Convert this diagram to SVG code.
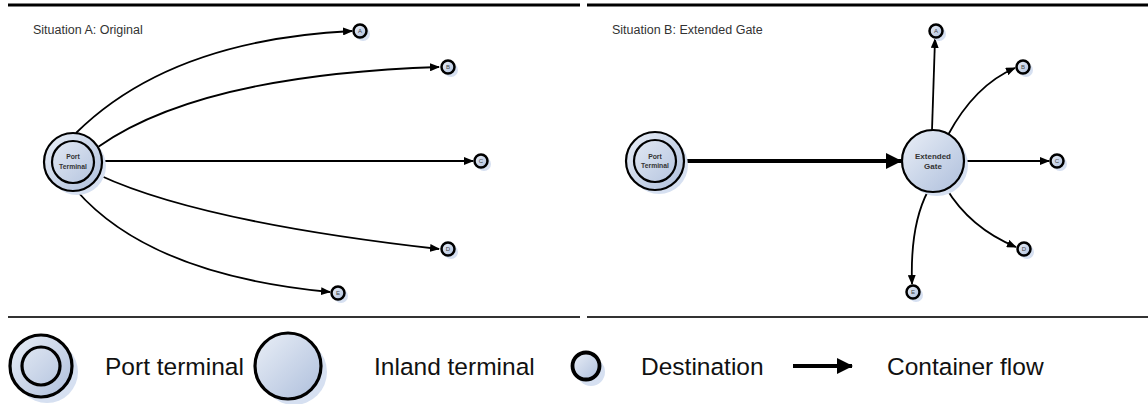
<svg xmlns="http://www.w3.org/2000/svg" width="1148" height="404" viewBox="0 0 1148 404">
<style>
.node{fill:url(#g);stroke:#000;stroke-width:2.2}
.dest{fill:url(#g);stroke:#000;stroke-width:2.5}
.shadow{fill:#d6e0f1;stroke:none}
.edge{fill:none;stroke:#000;stroke-width:1.8}
.lbl{font-family:"Liberation Sans",Arial,sans-serif;font-weight:bold;fill:#333;text-anchor:middle}
.dl{font-family:"Liberation Sans",Arial,sans-serif;font-size:6px;fill:#444;text-anchor:middle}
.title{font-family:"Liberation Sans",Arial,sans-serif;font-size:12.5px;fill:#333}
.leg{font-family:"Liberation Sans",Arial,sans-serif;font-size:24.5px;fill:#111}
</style>
<defs>
<linearGradient id="g" x1="0" y1="0" x2="1" y2="1">
<stop offset="0" stop-color="#eaeff7"/>
<stop offset="1" stop-color="#aebfdc"/>
</linearGradient>
<marker id="ah" markerUnits="userSpaceOnUse" markerWidth="10" markerHeight="8" refX="9" refY="4" orient="auto">
<path d="M0,0 L10,4 L0,8 z" fill="#000"/>
</marker>
<marker id="ahb" markerUnits="userSpaceOnUse" markerWidth="16" markerHeight="16" refX="15" refY="8" orient="auto">
<path d="M0,0 L16,8 L0,16 z" fill="#000"/>
</marker>
</defs>

<!-- frame lines -->
<g id="frame">
<line x1="8" y1="5" x2="580" y2="5" stroke="#000" stroke-width="2.8"/>
<line x1="587" y1="5" x2="1148" y2="5" stroke="#000" stroke-width="2.8"/>
<line x1="8" y1="317" x2="580" y2="317" stroke="#333" stroke-width="1.8"/>
<line x1="587" y1="317" x2="1148" y2="317" stroke="#333" stroke-width="1.8"/>
<text class="title" x="33" y="34">Situation A: Original</text>
<text class="title" x="612" y="34">Situation B: Extended Gate</text>
</g>

<!-- connectors -->
<g id="connectors">
<path class="edge" d="M76,133 Q170,40 352,31" marker-end="url(#ah)"/>
<path class="edge" d="M98,147 Q200,75 439,67" marker-end="url(#ah)"/>
<path class="edge" d="M103,161 L473,161" marker-end="url(#ah)"/>
<path class="edge" d="M99,175 Q200,222 439,249" marker-end="url(#ah)"/>
<path class="edge" d="M76,190 Q150,275 330,292" marker-end="url(#ah)"/>

<path d="M685,161 L901,161" fill="none" stroke="#000" stroke-width="4" marker-end="url(#ahb)"/>
<path class="edge" d="M932,130 L935,39" marker-end="url(#ah)"/>
<path class="edge" d="M948,135 Q975,85 1015,68" marker-end="url(#ah)"/>
<path class="edge" d="M964,161 L1049,161" marker-end="url(#ah)"/>
<path class="edge" d="M946,188 Q970,228 1016,247" marker-end="url(#ah)"/>
<path class="edge" d="M928,191 Q910,225 912,284" marker-end="url(#ah)"/>
</g>

<!-- Situation A nodes -->
<g id="portA">
<circle class="shadow" cx="77" cy="166" r="29"/>
<circle class="node" cx="73" cy="162" r="29"/>
<circle fill="none" stroke="#000" stroke-width="2.2" cx="73" cy="162" r="21"/>
<text class="lbl" font-size="6.8" x="73" y="159">Port</text>
<text class="lbl" font-size="6.8" x="73" y="168.5">Terminal</text>
</g>
<g id="A1"><circle class="shadow" cx="363" cy="34" r="7"/><circle class="dest" cx="360" cy="31" r="6.5"/><text class="dl" x="360" y="33">A</text></g>
<g id="B1"><circle class="shadow" cx="451" cy="70" r="7"/><circle class="dest" cx="448" cy="67" r="6.5"/><text class="dl" x="448" y="69">B</text></g>
<g id="C1"><circle class="shadow" cx="484" cy="164" r="7"/><circle class="dest" cx="481" cy="161" r="6.5"/><text class="dl" x="481" y="163">C</text></g>
<g id="D1"><circle class="shadow" cx="451" cy="252" r="7"/><circle class="dest" cx="448" cy="249" r="6.5"/><text class="dl" x="448" y="251">D</text></g>
<g id="E1"><circle class="shadow" cx="341" cy="296" r="7"/><circle class="dest" cx="338" cy="293" r="6.5"/><text class="dl" x="338" y="295">E</text></g>

<!-- Situation B nodes -->
<g id="portB">
<circle class="shadow" cx="659" cy="165" r="29"/>
<circle class="node" cx="655" cy="161" r="29"/>
<circle fill="none" stroke="#000" stroke-width="2.2" cx="655" cy="161" r="21"/>
<text class="lbl" font-size="6.8" x="655" y="158.5">Port</text>
<text class="lbl" font-size="6.8" x="655" y="168">Terminal</text>
</g>
<g id="gate">
<circle class="shadow" cx="937" cy="165" r="31"/>
<circle class="node" cx="933" cy="161" r="31"/>
<text class="lbl" font-size="8" x="933" y="159">Extended</text>
<text class="lbl" font-size="8" x="933" y="169">Gate</text>
</g>
<g id="A2"><circle class="shadow" cx="939" cy="34" r="7"/><circle class="dest" cx="936" cy="31" r="6.5"/><text class="dl" x="936" y="33">A</text></g>
<g id="B2"><circle class="shadow" cx="1026" cy="70" r="7"/><circle class="dest" cx="1023" cy="67" r="6.5"/><text class="dl" x="1023" y="69">B</text></g>
<g id="C2"><circle class="shadow" cx="1060" cy="164" r="7"/><circle class="dest" cx="1057" cy="161" r="6.5"/><text class="dl" x="1057" y="163">C</text></g>
<g id="D2"><circle class="shadow" cx="1027" cy="252" r="7"/><circle class="dest" cx="1024" cy="249" r="6.5"/><text class="dl" x="1024" y="251">D</text></g>
<g id="E2"><circle class="shadow" cx="916" cy="295" r="7"/><circle class="dest" cx="913" cy="292" r="6.5"/><text class="dl" x="913" y="294">E</text></g>

<!-- legend -->
<g id="legend">
<circle class="shadow" cx="47" cy="372" r="31"/>
<circle class="node" style="stroke-width:3.2" cx="41" cy="366" r="31"/>
<circle fill="none" stroke="#000" stroke-width="3.2" cx="41" cy="366" r="19"/>
<text class="leg" x="105" y="375">Port terminal</text>
<circle class="shadow" cx="294" cy="372" r="33"/>
<circle class="node" style="stroke-width:3.2" cx="288" cy="366" r="33"/>
<text class="leg" x="374" y="375">Inland terminal</text>
<circle class="shadow" cx="591" cy="372" r="14"/>
<circle class="node" style="stroke-width:3.8" cx="586" cy="366" r="13.5"/>
<text class="leg" x="641" y="375">Destination</text>
<path d="M793,366 L852,366" fill="none" stroke="#000" stroke-width="4" marker-end="url(#ahb)"/>
<text class="leg" x="887" y="375">Container flow</text>
</g>
</svg>
